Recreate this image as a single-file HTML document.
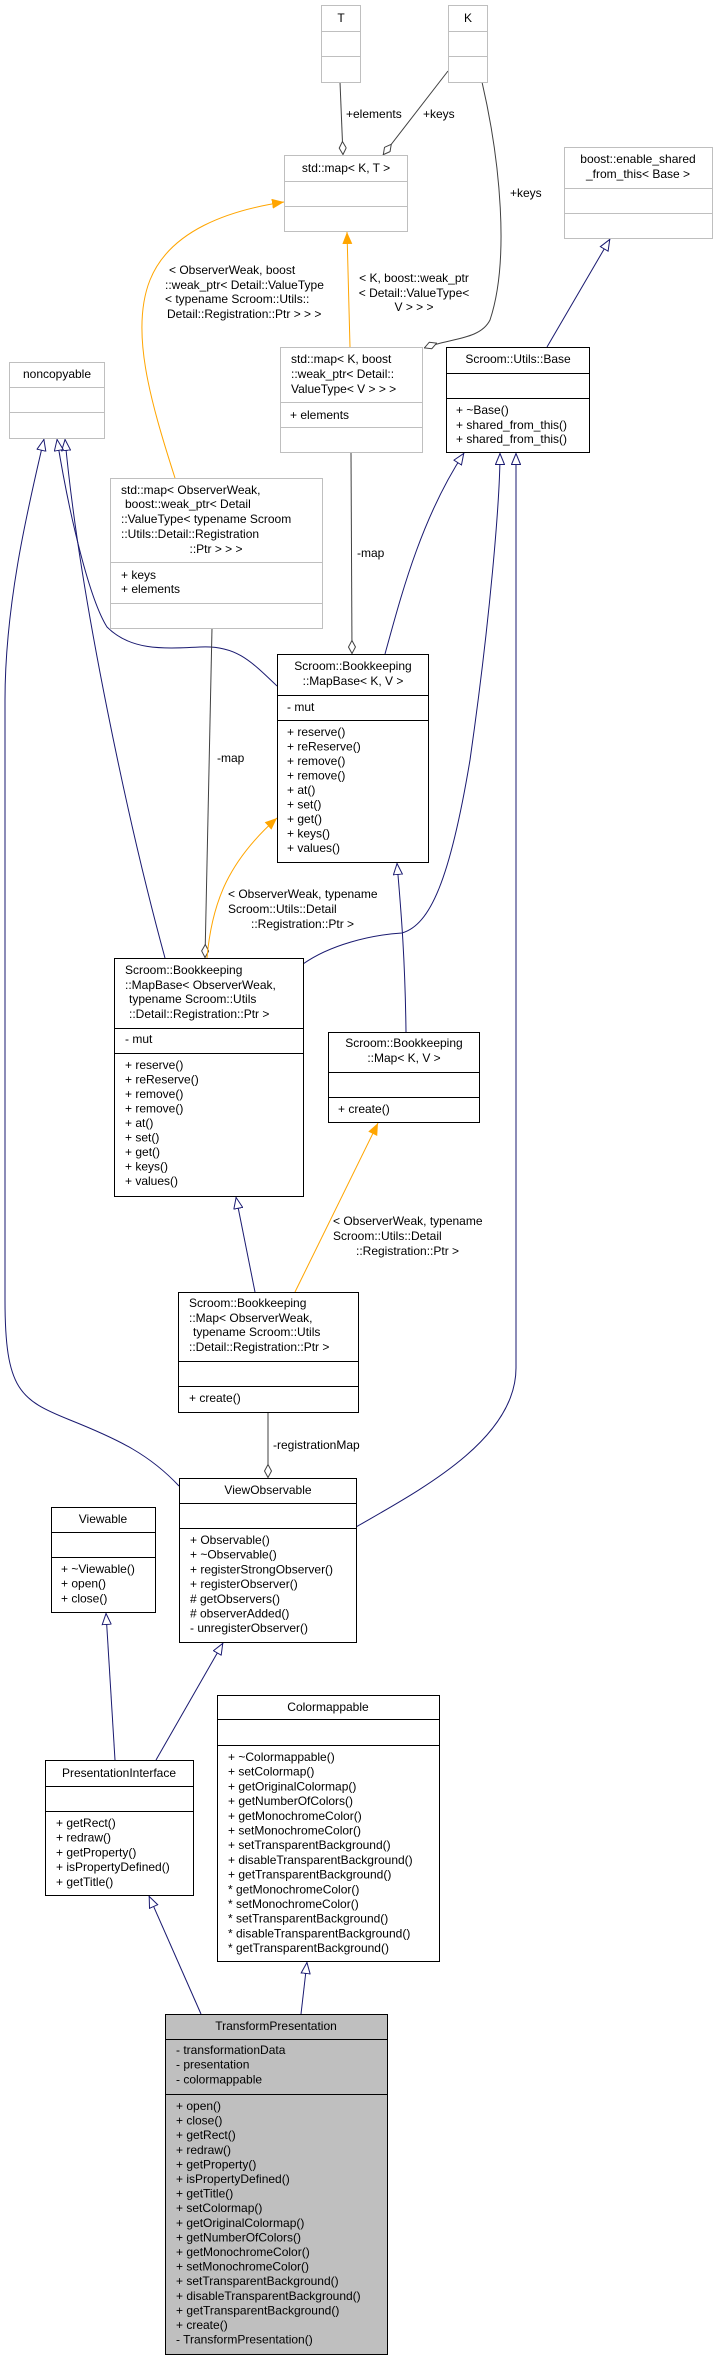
<!DOCTYPE html>
<html><head><meta charset="utf-8"><style>
html,body{margin:0;padding:0;background:#fff;}
svg{display:block;}
text{font-family:"Liberation Sans",sans-serif;font-size:12px;fill:#000;}
.g{fill:#fff;stroke:#bfbfbf;stroke-width:1;}
.b{fill:#fff;stroke:#000;stroke-width:1;}
.gl{stroke:#bfbfbf;stroke-width:1;}
.bl{stroke:#000;stroke-width:1;}
.n{fill:none;stroke:#191970;stroke-width:1;marker-end:url(#tri);}
.o{fill:none;stroke:#ffa500;stroke-width:1;marker-end:url(#arr);}
.d{fill:none;stroke:#404040;stroke-width:1;marker-end:url(#dia);}
.m{text-anchor:middle;}
</style></head><body>
<svg width="713" height="2360" viewBox="0 0 713 2360" xmlns="http://www.w3.org/2000/svg">
<defs>
<marker id="tri" viewBox="0 0 12 10" refX="12" refY="5" markerWidth="12" markerHeight="10" markerUnits="userSpaceOnUse" orient="auto"><path d="M0.5,0.5 L11.5,5 L0.5,9.5 z" fill="#fff" stroke="#191970"/></marker>
<marker id="arr" viewBox="0 0 12 10" refX="12" refY="5" markerWidth="12" markerHeight="10" markerUnits="userSpaceOnUse" orient="auto"><path d="M0,0 L12,5 L0,10 z" fill="#ffa500"/></marker>
<marker id="dia" viewBox="0 0 14 8" refX="14" refY="4" markerWidth="14" markerHeight="8" markerUnits="userSpaceOnUse" orient="auto"><path d="M0.5,4 L7,0.5 L13.5,4 L7,7.5 z" fill="#fff" stroke="#404040"/></marker>
</defs>

<!-- edges -->
<path class="d" d="M340,82 L343,155"/>
<path class="d" d="M448,71 L383,155"/>
<path class="d" d="M482,82 C500,160 510,260 490,320 C480,340 450,338 424,348"/>
<path class="o" d="M350,347 L347,232"/>
<path class="o" d="M175,478 C150,400 130,330 150,280 C170,230 230,210 284,202"/>
<path class="n" d="M547,347 L610,239"/>
<path class="n" d="M385,654 C400,600 420,520 464,453"/>
<path class="n" d="M303,964 C330,945 370,935 402,933 C430,925 450,880 470,760 C490,620 500,500 500,453"/>
<path class="n" d="M356,1527 C420,1490 516,1440 516,1368 L516,453"/>
<path class="n" d="M165,958 C130,830 80,600 65,439"/>
<path class="n" d="M277,686 C250,660 235,645 200,647 C160,649 130,650 107,627 C90,600 70,520 57,439"/>
<path class="n" d="M179,1486 C150,1455 120,1440 70,1420 C20,1400 5,1390 5,1300 L5,700 C5,600 30,500 44,439"/>
<path class="d" d="M351,452 L352,654"/>
<path class="d" d="M212,628 L205,958"/>
<path class="o" d="M207,958 C212,900 230,860 277,818"/>
<path class="n" d="M406,1032 C405,950 400,900 397,863"/>
<path class="n" d="M255,1292 L236,1197"/>
<path class="o" d="M295,1292 L378,1123"/>
<path class="d" d="M268,1412 L268,1478"/>
<path class="n" d="M115,1760 L106,1613"/>
<path class="n" d="M156,1760 L223,1643"/>
<path class="n" d="M201,2014 L149,1896"/>
<path class="n" d="M301,2014 L307,1962"/>

<!-- edge labels -->
<text x="346" y="118">+elements</text>
<text x="423" y="118">+keys</text>
<text x="510" y="197">+keys</text>
<text class="m" x="414" y="282">&lt; K, boost::weak_ptr</text>
<text class="m" x="414" y="297">&lt; Detail::ValueType&lt;</text>
<text class="m" x="414" y="311">V &gt; &gt; &gt;</text>
<text x="169" y="274">&lt; ObserverWeak, boost</text>
<text x="165" y="289">::weak_ptr&lt; Detail::ValueType</text>
<text x="165" y="303">&lt; typename Scroom::Utils::</text>
<text x="167" y="318">Detail::Registration::Ptr &gt; &gt; &gt;</text>
<text x="357" y="557">-map</text>
<text x="217" y="762">-map</text>
<text x="228" y="898">&lt; ObserverWeak, typename</text>
<text x="228" y="913">Scroom::Utils::Detail</text>
<text x="251" y="928">::Registration::Ptr &gt;</text>
<text x="333" y="1225">&lt; ObserverWeak, typename</text>
<text x="333" y="1240">Scroom::Utils::Detail</text>
<text x="356" y="1255">::Registration::Ptr &gt;</text>
<text x="273" y="1449">-registrationMap</text>

<!-- T -->
<rect class="g" x="321.5" y="5.5" width="39" height="77"/>
<line class="gl" x1="321.5" y1="31.5" x2="360.5" y2="31.5"/><line class="gl" x1="321.5" y1="56.5" x2="360.5" y2="56.5"/>
<text class="m" x="341" y="22">T</text>
<!-- K -->
<rect class="g" x="448.5" y="5.5" width="39" height="77"/>
<line class="gl" x1="448.5" y1="31.5" x2="487.5" y2="31.5"/><line class="gl" x1="448.5" y1="56.5" x2="487.5" y2="56.5"/>
<text class="m" x="468" y="22">K</text>
<!-- std::map<K,T> -->
<rect class="g" x="284.5" y="155.5" width="123" height="76"/>
<line class="gl" x1="284.5" y1="181.5" x2="407.5" y2="181.5"/><line class="gl" x1="284.5" y1="206.5" x2="407.5" y2="206.5"/>
<text class="m" x="346" y="172">std::map&lt; K, T &gt;</text>
<!-- boost -->
<rect class="g" x="564.5" y="147.5" width="148" height="91"/>
<line class="gl" x1="564.5" y1="188.5" x2="712.5" y2="188.5"/><line class="gl" x1="564.5" y1="213.5" x2="712.5" y2="213.5"/>
<text class="m" x="638" y="163">boost::enable_shared</text>
<text class="m" x="638" y="178">_from_this&lt; Base &gt;</text>
<!-- noncopyable -->
<rect class="g" x="9.5" y="362.5" width="95" height="76"/>
<line class="gl" x1="9.5" y1="387.5" x2="104.5" y2="387.5"/><line class="gl" x1="9.5" y1="412.5" x2="104.5" y2="412.5"/>
<text class="m" x="57" y="378">noncopyable</text>
<!-- std::map<K, boost...> -->
<rect class="g" x="280.5" y="347.5" width="142" height="105"/>
<line class="gl" x1="280.5" y1="402.5" x2="422.5" y2="402.5"/><line class="gl" x1="280.5" y1="427.5" x2="422.5" y2="427.5"/>
<text x="291" y="363">std::map&lt; K, boost</text>
<text x="291" y="378">::weak_ptr&lt; Detail::</text>
<text x="291" y="393">ValueType&lt; V &gt; &gt; &gt;</text>
<text x="290" y="419">+ elements</text>
<!-- Scroom::Utils::Base -->
<rect class="b" x="446.5" y="347.5" width="143" height="105"/>
<line class="bl" x1="446.5" y1="373.5" x2="589.5" y2="373.5"/><line class="bl" x1="446.5" y1="398.5" x2="589.5" y2="398.5"/>
<text class="m" x="518" y="363">Scroom::Utils::Base</text>
<text x="456" y="414">+ ~Base()</text>
<text x="456" y="429">+ shared_from_this()</text>
<text x="456" y="443">+ shared_from_this()</text>
<!-- std::map<ObserverWeak...> -->
<rect class="g" x="110.5" y="478.5" width="212" height="150"/>
<line class="gl" x1="110.5" y1="562.5" x2="322.5" y2="562.5"/><line class="gl" x1="110.5" y1="603.5" x2="322.5" y2="603.5"/>
<text x="121" y="494">std::map&lt; ObserverWeak,</text>
<text x="125" y="508">boost::weak_ptr&lt; Detail</text>
<text x="121" y="523">::ValueType&lt; typename Scroom</text>
<text x="121" y="538">::Utils::Detail::Registration</text>
<text class="m" x="216" y="553">::Ptr &gt; &gt; &gt;</text>
<text x="121" y="579">+ keys</text>
<text x="121" y="593">+ elements</text>
<!-- MapBase<K,V> -->
<rect class="b" x="277.5" y="654.5" width="151" height="208"/>
<line class="bl" x1="277.5" y1="695.5" x2="428.5" y2="695.5"/><line class="bl" x1="277.5" y1="720.5" x2="428.5" y2="720.5"/>
<text class="m" x="353" y="670">Scroom::Bookkeeping</text>
<text class="m" x="353" y="685">::MapBase&lt; K, V &gt;</text>
<text x="287" y="711">- mut</text>
<text x="287" y="736">+ reserve()</text>
<text x="287" y="750.5">+ reReserve()</text>
<text x="287" y="765">+ remove()</text>
<text x="287" y="779.5">+ remove()</text>
<text x="287" y="794">+ at()</text>
<text x="287" y="808.5">+ set()</text>
<text x="287" y="823">+ get()</text>
<text x="287" y="837.5">+ keys()</text>
<text x="287" y="852">+ values()</text>
<!-- MapBase<ObserverWeak...> -->
<rect class="b" x="114.5" y="958.5" width="189" height="238"/>
<line class="bl" x1="114.5" y1="1028.5" x2="303.5" y2="1028.5"/><line class="bl" x1="114.5" y1="1053.5" x2="303.5" y2="1053.5"/>
<text x="125" y="974">Scroom::Bookkeeping</text>
<text x="125" y="989">::MapBase&lt; ObserverWeak,</text>
<text x="129" y="1003">typename Scroom::Utils</text>
<text x="129" y="1018">::Detail::Registration::Ptr &gt;</text>
<text x="125" y="1043">- mut</text>
<text x="125" y="1069">+ reserve()</text>
<text x="125" y="1083.5">+ reReserve()</text>
<text x="125" y="1098">+ remove()</text>
<text x="125" y="1112.5">+ remove()</text>
<text x="125" y="1127">+ at()</text>
<text x="125" y="1141.5">+ set()</text>
<text x="125" y="1156">+ get()</text>
<text x="125" y="1170.5">+ keys()</text>
<text x="125" y="1185">+ values()</text>
<!-- Map<K,V> -->
<rect class="b" x="328.5" y="1032.5" width="151" height="90"/>
<line class="bl" x1="328.5" y1="1072.5" x2="479.5" y2="1072.5"/><line class="bl" x1="328.5" y1="1097.5" x2="479.5" y2="1097.5"/>
<text class="m" x="404" y="1047">Scroom::Bookkeeping</text>
<text class="m" x="404" y="1062">::Map&lt; K, V &gt;</text>
<text x="338" y="1113">+ create()</text>
<!-- Map<ObserverWeak...> -->
<rect class="b" x="178.5" y="1292.5" width="180" height="120"/>
<line class="bl" x1="178.5" y1="1361.5" x2="358.5" y2="1361.5"/><line class="bl" x1="178.5" y1="1386.5" x2="358.5" y2="1386.5"/>
<text x="189" y="1307">Scroom::Bookkeeping</text>
<text x="189" y="1322">::Map&lt; ObserverWeak,</text>
<text x="193" y="1336">typename Scroom::Utils</text>
<text x="189" y="1351">::Detail::Registration::Ptr &gt;</text>
<text x="189" y="1402">+ create()</text>
<!-- ViewObservable -->
<rect class="b" x="179.5" y="1478.5" width="177" height="164"/>
<line class="bl" x1="179.5" y1="1503.5" x2="356.5" y2="1503.5"/><line class="bl" x1="179.5" y1="1528.5" x2="356.5" y2="1528.5"/>
<text class="m" x="268" y="1494">ViewObservable</text>
<text x="190" y="1544">+ Observable()</text>
<text x="190" y="1558.7">+ ~Observable()</text>
<text x="190" y="1573.4">+ registerStrongObserver()</text>
<text x="190" y="1588.1">+ registerObserver()</text>
<text x="190" y="1602.8"># getObservers()</text>
<text x="190" y="1617.5"># observerAdded()</text>
<text x="190" y="1632.2">- unregisterObserver()</text>
<!-- Viewable -->
<rect class="b" x="51.5" y="1507.5" width="104" height="105"/>
<line class="bl" x1="51.5" y1="1532.5" x2="155.5" y2="1532.5"/><line class="bl" x1="51.5" y1="1557.5" x2="155.5" y2="1557.5"/>
<text class="m" x="103" y="1523">Viewable</text>
<text x="61" y="1573">+ ~Viewable()</text>
<text x="61" y="1587.7">+ open()</text>
<text x="61" y="1602.4">+ close()</text>
<!-- PresentationInterface -->
<rect class="b" x="45.5" y="1760.5" width="148" height="135"/>
<line class="bl" x1="45.5" y1="1786.5" x2="193.5" y2="1786.5"/><line class="bl" x1="45.5" y1="1811.5" x2="193.5" y2="1811.5"/>
<text class="m" x="119" y="1777">PresentationInterface</text>
<text x="56" y="1827">+ getRect()</text>
<text x="56" y="1841.7">+ redraw()</text>
<text x="56" y="1856.4">+ getProperty()</text>
<text x="56" y="1871.1">+ isPropertyDefined()</text>
<text x="56" y="1885.8">+ getTitle()</text>
<!-- Colormappable -->
<rect class="b" x="217.5" y="1695.5" width="222" height="266"/>
<line class="bl" x1="217.5" y1="1719.5" x2="439.5" y2="1719.5"/><line class="bl" x1="217.5" y1="1745.5" x2="439.5" y2="1745.5"/>
<text class="m" x="328" y="1711">Colormappable</text>
<text x="228" y="1761">+ ~Colormappable()</text>
<text x="228" y="1775.7">+ setColormap()</text>
<text x="228" y="1790.4">+ getOriginalColormap()</text>
<text x="228" y="1805.1">+ getNumberOfColors()</text>
<text x="228" y="1819.8">+ getMonochromeColor()</text>
<text x="228" y="1834.5">+ setMonochromeColor()</text>
<text x="228" y="1849.2">+ setTransparentBackground()</text>
<text x="228" y="1863.9">+ disableTransparentBackground()</text>
<text x="228" y="1878.6">+ getTransparentBackground()</text>
<text x="228" y="1893.3">* getMonochromeColor()</text>
<text x="228" y="1908">* setMonochromeColor()</text>
<text x="228" y="1922.7">* setTransparentBackground()</text>
<text x="228" y="1937.4">* disableTransparentBackground()</text>
<text x="228" y="1952.1">* getTransparentBackground()</text>
<!-- TransformPresentation -->
<rect x="165.5" y="2014.5" width="222" height="340" fill="#bfbfbf" stroke="#000"/>
<line class="bl" x1="165.5" y1="2039.5" x2="387.5" y2="2039.5"/><line class="bl" x1="165.5" y1="2094.5" x2="387.5" y2="2094.5"/>
<text class="m" x="276" y="2030">TransformPresentation</text>
<text x="176" y="2054">- transformationData</text>
<text x="176" y="2068.7">- presentation</text>
<text x="176" y="2083.4">- colormappable</text>
<text x="176" y="2110">+ open()</text>
<text x="176" y="2124.6">+ close()</text>
<text x="176" y="2139.2">+ getRect()</text>
<text x="176" y="2153.8">+ redraw()</text>
<text x="176" y="2168.4">+ getProperty()</text>
<text x="176" y="2183">+ isPropertyDefined()</text>
<text x="176" y="2197.6">+ getTitle()</text>
<text x="176" y="2212.2">+ setColormap()</text>
<text x="176" y="2226.8">+ getOriginalColormap()</text>
<text x="176" y="2241.4">+ getNumberOfColors()</text>
<text x="176" y="2256">+ getMonochromeColor()</text>
<text x="176" y="2270.6">+ setMonochromeColor()</text>
<text x="176" y="2285.2">+ setTransparentBackground()</text>
<text x="176" y="2299.8">+ disableTransparentBackground()</text>
<text x="176" y="2314.4">+ getTransparentBackground()</text>
<text x="176" y="2329">+ create()</text>
<text x="176" y="2343.6">- TransformPresentation()</text>
</svg>
</body></html>
